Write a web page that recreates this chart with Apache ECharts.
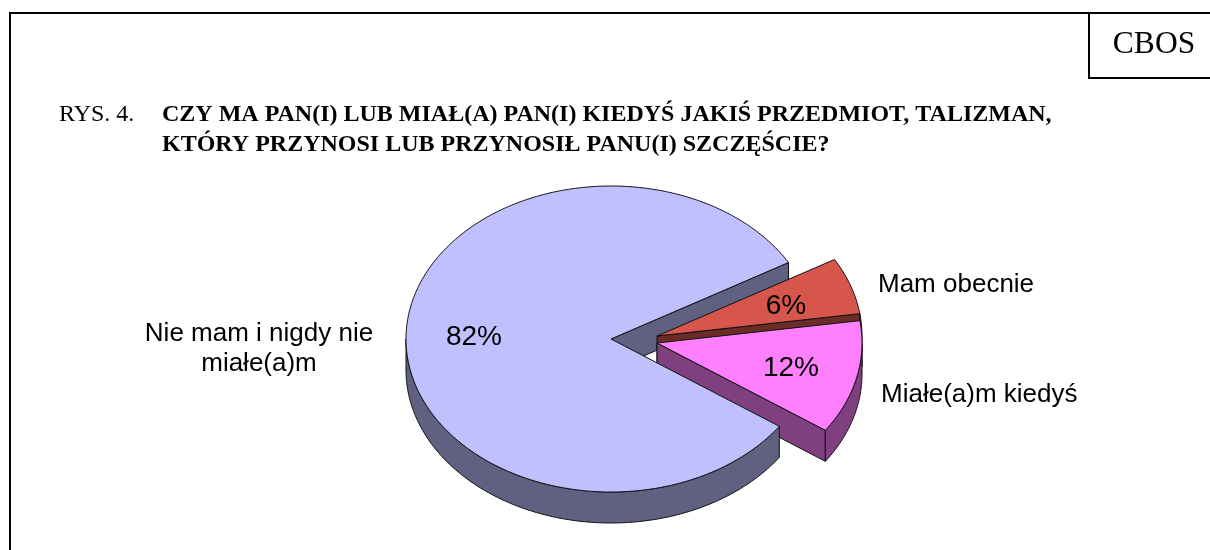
<!DOCTYPE html>
<html><head><meta charset="utf-8">
<style>html,body{margin:0;padding:0;background:#fff}#c{width:1210px;height:550px}</style>
<script src="https://cdn.jsdelivr.net/npm/echarts@6/dist/echarts.min.js"></script>
</head><body><div id="c"></div>
<script>
const categories = ['Mam obecnie', 'Miałe(a)m kiedyś', 'Nie mam i nigdy nie\nmiałe(a)m'];
const values = [6, 12, 82];
const titleLines = ['CZY MA PAN(I) LUB MIAŁ(A) PAN(I) KIEDYŚ JAKIŚ PRZEDMIOT, TALIZMAN,',
                    'KTÓRY PRZYNOSI LUB PRZYNOSIŁ PANU(I) SZCZĘŚCIE?'];
const figureLabel = 'RYS. 4.';
const sourceLabel = 'CBOS';

const topColors = ['#D6564B', '#FF80FF', '#C0C0FF'];
const sideColors = ['#6B2B26', '#804080', '#606080'];
const explode = [[46, -3], [46, 4], [0, 0]];
const namePos = [[878, 285, 'left'], [881, 395, 'left'], [259, 349, 'center']];
const pctPos = [[786, 306], [791, 368], [474, 337]];
const CX = 611, CY = 339, RX = 205, RY = 153, DEPTH = 31, START = 30;

const total = values.reduce((a, b) => a + b, 0);
function pt(c, deg, dy) {
  const a = deg * Math.PI / 180;
  return [c[0] + RX * Math.cos(a), c[1] - RY * Math.sin(a) + (dy || 0)];
}
function arc(c, from, to, dy) {
  const n = Math.max(2, Math.ceil(Math.abs(to - from) * 1.5)), out = [];
  for (let i = 0; i <= n; i++) out.push(pt(c, from + (to - from) * i / n, dy));
  return out;
}
function poly(points, fill, z2) {
  return { type: 'polygon', z2, shape: { points },
    style: { fill, stroke: '#111', lineWidth: 1, lineJoin: 'round' } };
}
function renderItem(params, api) {
  const i = params.dataIndex;
  let before = 0;
  for (let k = 0; k < i; k++) before += values[k];
  const from = START - before / total * 360;
  const to = from - values[i] / total * 360;
  const c = [CX + explode[i][0], CY + explode[i][1]];
  const top = topColors[i], side = sideColors[i];
  const children = [];
  const base = i === 2 ? 20 : 4 + i * 4;
  const wall = (deg) => [c, pt(c, deg), pt(c, deg, DEPTH), [c[0], c[1] + DEPTH]];
  const rim = (a, b) => arc(c, a, b, 0).concat(arc(c, b, a, DEPTH));
  if (i === 2) {
    // back cut face of the big slice sits under the detached slices
    children.push(poly(wall(to), side, 1));
    // front rim: lower cut round the bottom to the left extreme
    children.push(poly(rim(from, -180), side, base));
  } else {
    children.push(poly(wall(to), side, base));
    children.push(poly(rim(Math.min(from, 0), to), side, base));
  }
  children.push(poly([c].concat(arc(c, from, to)), top, base + 1));
  const pp = pctPos[i], np = namePos[i];
  children.push({ type: 'text', z2: 40, style: { x: pp[0], y: pp[1], text: values[i] + '%',
    fill: '#000', font: '28px "Liberation Sans"', textAlign: 'center', textVerticalAlign: 'middle' } });
  children.push({ type: 'text', z2: 40, style: { x: np[0], y: np[1], text: categories[i],
    fill: '#000', font: '26px "Liberation Sans"', lineHeight: 30, textAlign: np[2], textVerticalAlign: 'middle' } });
  return { type: 'group', children };
}
const serif = '"Liberation Serif"';
const chart = echarts.init(document.getElementById('c'), null, { renderer: 'canvas' });
chart.setOption({
  animation: false,
  backgroundColor: '#fff',
  graphic: [
    { type: 'polyline', shape: { points: [[10, 550], [10, 13], [1210, 13]] }, style: { stroke: '#000', lineWidth: 2, fill: null } },
    { type: 'polyline', shape: { points: [[1089, 13], [1089, 78], [1210, 78]] }, style: { stroke: '#000', lineWidth: 2, fill: null } },
    { type: 'text', style: { x: 1154, y: 45, text: sourceLabel, fill: '#000', font: '31.5px ' + serif, textAlign: 'center', textVerticalAlign: 'middle' } },
    { type: 'text', style: { x: 59, y: 115, text: figureLabel, fill: '#000', font: '24px ' + serif, textVerticalAlign: 'middle' } },
    { type: 'text', style: { x: 162, y: 115, text: titleLines[0], fill: '#000', font: 'bold 24px ' + serif, textVerticalAlign: 'middle' } },
    { type: 'text', style: { x: 162, y: 145, text: titleLines[1], fill: '#000', font: 'bold 24px ' + serif, textVerticalAlign: 'middle' } }
  ],
  series: [{ type: 'custom', coordinateSystem: 'none', renderItem, data: values, silent: true }]
});
</script></body></html>
